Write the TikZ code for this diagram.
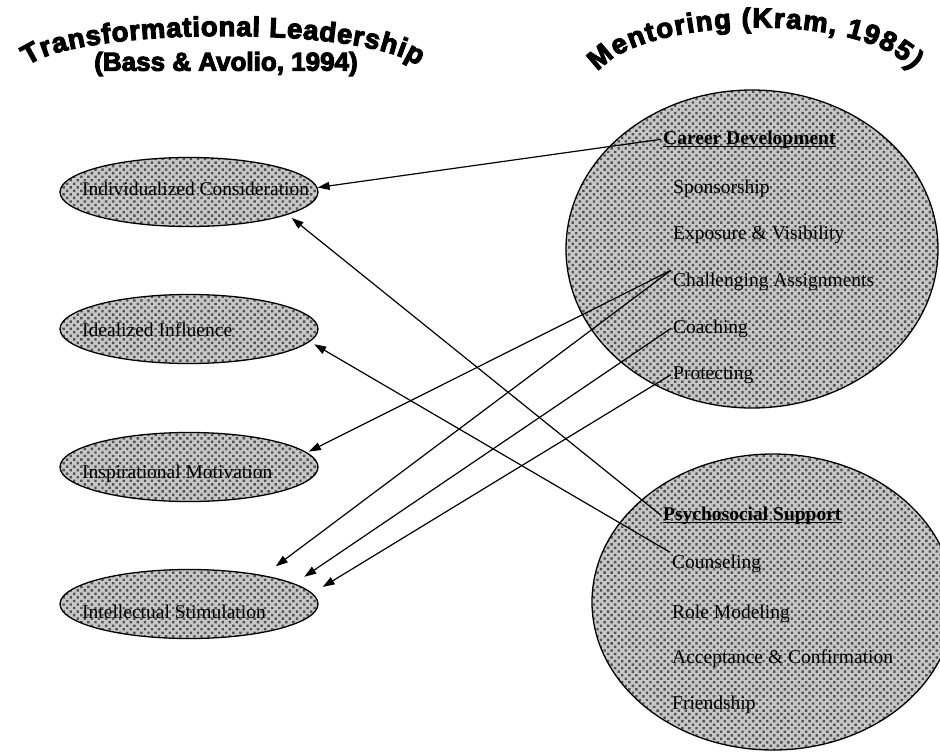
\documentclass[tikz,border=0pt]{standalone}
\usepackage{fontspec}
\setmainfont{Liberation Serif}
\newfontfamily\titlefont[FakeBold=4]{Liberation Sans Bold}
\usetikzlibrary{shapes.geometric,arrows.meta,decorations.text,patterns.meta}
\tikzset{
  dither/.style={draw=black, line width=1.3pt, preaction={fill=black!22},
    pattern={Dots[distance=5pt,angle=45,radius=1.7pt]}, pattern color=black!68},
  tlell/.style={ellipse, dither, minimum width=258pt, minimum height=69pt, inner sep=0pt},
  mcirc/.style={ellipse, dither, inner sep=0pt},
  itemtxt/.style={anchor=base west, inner sep=2pt, font=\fontsize{19.5}{22}\selectfont},
  headtxt/.style={itemtxt, font=\fontsize{19.5}{22}\selectfont\bfseries},
  ttl/.style={font=\titlefont\fontsize{26}{30}\selectfont, inner sep=0pt},
  link/.style={line width=1.2pt, -{Triangle[length=12pt,width=8pt]}},
  uline/.style={line width=1pt},
}
\begin{document}
\begin{tikzpicture}[x=1pt,y=-1pt]
\useasboundingbox (0,0) rectangle (940,753);

% titles
\path[decorate, decoration={text along path, text align={fit to path},
  text={|\titlefont\fontsize{27.5}{30}\selectfont|Transformational Leadership}}]
  (28,66) .. controls (72,28) and (362,24) .. (418,66);
\node[ttl] (tlsub) at (226,64) {(Bass \& Avolio, 1994)};
\path[decorate, decoration={text along path, text align={fit to path},
  text={|\titlefont\fontsize{27.5}{30}\selectfont|Mentoring (Kram, 1985)}}]
  (598,72) .. controls (640,16) and (862,10) .. (912,70);

% left ellipses
\node[tlell] (ic) at (189,192) {};
\node[itemtxt] (ict) at (80,195) {Individualized Consideration};
\node[tlell] (ii) at (189,329) {};
\node[itemtxt] (iit) at (80,336) {Idealized Influence};
\node[tlell] (im) at (189,467) {};
\node[itemtxt] (imt) at (80,478) {Inspirational Motivation};
\node[tlell] (is) at (189,604) {};
\node[itemtxt] (ist) at (80,618) {Intellectual Stimulation};

% right circles
\node[mcirc, minimum width=372pt, minimum height=318pt] (cd) at (752,249) {};
\node[mcirc, minimum width=362pt, minimum height=296pt] (ps) at (773,602) {};

\node[headtxt] (cdt) at (661,144) {Career Development};
\draw[uline] ([xshift=2pt,yshift=-2.5pt]cdt.base west) -- ([xshift=-2pt,yshift=-2.5pt]cdt.base east);
\node[itemtxt] (sp) at (671,193) {Sponsorship};
\node[itemtxt] (ev) at (671,239) {Exposure \& Visibility};
\node[itemtxt] (ca) at (671,286) {Challenging Assignments};
\node[itemtxt] (co) at (671,333) {Coaching};
\node[itemtxt] (pr) at (671,379) {Protecting};

\node[headtxt] (pst) at (661,520) {Psychosocial Support};
\draw[uline] ([xshift=2pt,yshift=-2.5pt]pst.base west) -- ([xshift=-2pt,yshift=-2.5pt]pst.base east);
\node[itemtxt] (cn) at (670,568) {Counseling};
\node[itemtxt] (rm) at (670,618) {Role Modeling};
\node[itemtxt] (ac) at (670,663) {Acceptance \& Confirmation};
\node[itemtxt] (fr) at (670,709) {Friendship};

% connectors
\draw[link] (cdt.west) -- (ic.2);
\draw[link, shorten >=5pt] (pst.west) -- (ic.-13);
\draw[link, shorten >=5pt] (cn.north west) -- (ii.-6.4);
\draw[link, shorten >=2pt] (ca.north west) -- (im.7);
\draw[link, shorten >=15pt] (ca.north west) -- (is.21.5);
\draw[link, shorten >=12pt] (co.west) -- (is.11);
\draw[link, shorten >=12pt] (pr.west) -- (is.5);
\end{tikzpicture}
\end{document}
